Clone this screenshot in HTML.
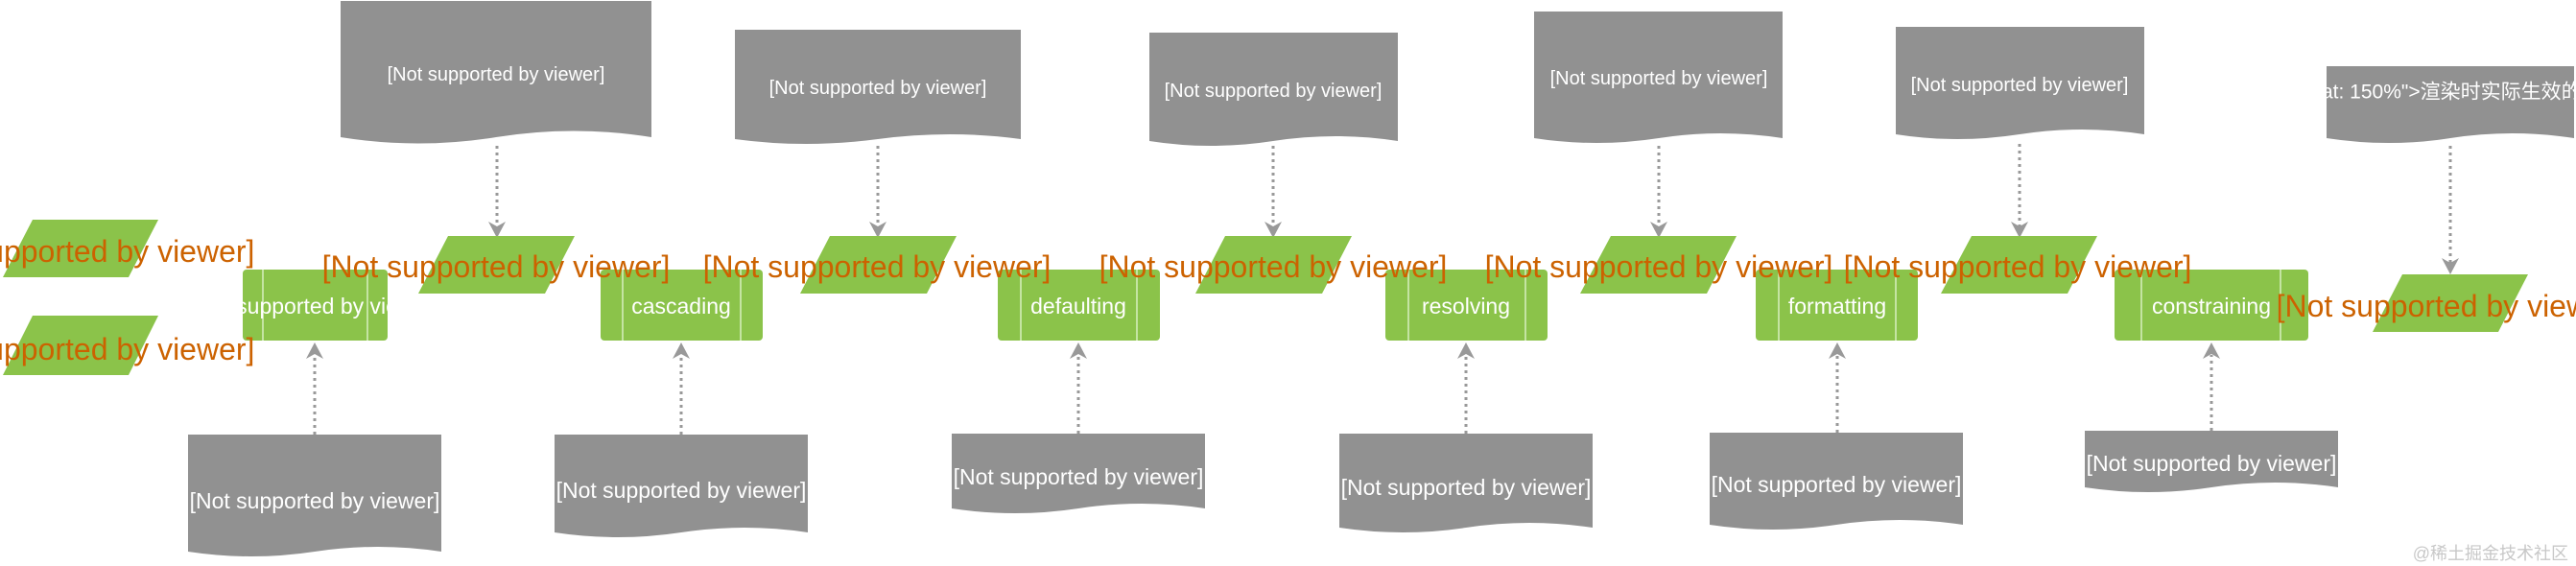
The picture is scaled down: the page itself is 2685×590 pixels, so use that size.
<!DOCTYPE html>
<html><head><meta charset="utf-8"><style>
html,body{margin:0;padding:0;background:#fff;overflow:hidden}
svg{display:block}
</style></head><body>
<svg width="2685" height="590" xmlns="http://www.w3.org/2000/svg" font-family="'Liberation Sans','Noto Sans CJK SC',sans-serif">
<defs>
<clipPath id="c6"><rect x="2425" y="60" width="260" height="100"/></clipPath>
</defs>
<g fill="#919191">
<path d="M355 1 H679 V143 Q598 130 517 143 Q436 156 355 143 Z"/>
<path d="M766 31 H1064 V145 Q990 135 915 145 Q840 155 766 145 Z"/>
<path d="M1198 34 H1457 V147 Q1392 137 1327 147 Q1262 157 1198 147 Z"/>
<path d="M1599 12 H1858 V144 Q1793 134 1729 144 Q1664 154 1599 144 Z"/>
<path d="M1976 28 H2235 V140 Q2170 130 2105 140 Q2040 150 1976 140 Z"/>
<path d="M2425 69 H2683 V144 Q2618 134 2554 144 Q2490 154 2425 144 Z"/>
<path d="M196 453 H460 V575 Q394 565 328 575 Q262 585 196 575 Z"/>
<path d="M578 453 H842 V555 Q776 545 710 555 Q644 565 578 555 Z"/>
<path d="M992 452 H1256 V530 Q1190 520 1124 530 Q1058 540 992 530 Z"/>
<path d="M1396 452 H1660 V550 Q1594 540 1528 550 Q1462 560 1396 550 Z"/>
<path d="M1782 451 H2046 V547 Q1980 537 1914 547 Q1848 557 1782 547 Z"/>
<path d="M2173 449 H2437 V508 Q2371 498 2305 508 Q2239 518 2173 508 Z"/>
</g>
<g fill="#fff" font-size="20" text-anchor="middle" dominant-baseline="central">
<text x="517" y="78">[Not supported by viewer]</text>
<text x="915" y="92">[Not supported by viewer]</text>
<text x="1327" y="95">[Not supported by viewer]</text>
<text x="1729" y="82">[Not supported by viewer]</text>
<text x="2105" y="89">[Not supported by viewer]</text>
</g>
<g clip-path="url(#c6)"><text x="2420" y="96" fill="#fff" font-size="21" dominant-baseline="central">at: 150%"&gt;渲染时实际生效的值</text></g>
<g fill="#fff" font-size="23" text-anchor="middle" dominant-baseline="central">
<text x="328" y="522">[Not supported by viewer]</text>
<text x="710" y="511">[Not supported by viewer]</text>
<text x="1124" y="497">[Not supported by viewer]</text>
<text x="1528" y="508">[Not supported by viewer]</text>
<text x="1914" y="505">[Not supported by viewer]</text>
<text x="2305" y="483">[Not supported by viewer]</text>
</g>
<g stroke="#999" stroke-width="3" stroke-dasharray="3,4" fill="none">
<path d="M518 152 V236"/><path d="M915 152 V236"/><path d="M1327 152 V236"/><path d="M1729 152 V236"/><path d="M2105 150 V236"/><path d="M2554 152 V274"/>
<path d="M328 453 V370"/><path d="M710 453 V370"/><path d="M1124 452 V370"/><path d="M1528 452 V370"/><path d="M1915 451 V370"/><path d="M2305 449 V370"/>
</g>
<g fill="#999">
<path d="M509 231 L518 248 L527 231 L518 236 Z"/>
<path d="M906 231 L915 248 L924 231 L915 236 Z"/>
<path d="M1318 231 L1327 248 L1336 231 L1327 236 Z"/>
<path d="M1720 231 L1729 248 L1738 231 L1729 236 Z"/>
<path d="M2096 231 L2105 248 L2114 231 L2105 236 Z"/>
<path d="M2545 269 L2554 286 L2563 269 L2554 274 Z"/>
<path d="M319 374 L328 357 L337 374 L328 369 Z"/>
<path d="M701 374 L710 357 L719 374 L710 369 Z"/>
<path d="M1115 374 L1124 357 L1133 374 L1124 369 Z"/>
<path d="M1519 374 L1528 357 L1537 374 L1528 369 Z"/>
<path d="M1906 374 L1915 357 L1924 374 L1915 369 Z"/>
<path d="M2296 374 L2305 357 L2314 374 L2305 369 Z"/>
</g>
<g fill="#8bc34a">
<rect x="253" y="281" width="151" height="74" rx="4"/>
<rect x="626" y="281" width="169" height="74" rx="4"/>
<rect x="1040" y="281" width="169" height="74" rx="4"/>
<rect x="1444" y="281" width="169" height="74" rx="4"/>
<rect x="1830" y="281" width="169" height="74" rx="4"/>
<rect x="2204" y="281" width="202" height="74" rx="4"/>
</g>
<g stroke="#d8efc0" stroke-width="1.5">
<path d="M274 281V355M383 281V355M649 281V355M772 281V355M1064 281V355M1185 281V355M1468 281V355M1590 281V355M1854 281V355M1976 281V355M2232 281V355M2377 281V355"/>
</g>
<g fill="#fff" font-size="23" text-anchor="middle" dominant-baseline="central">
<text x="328" y="319">[Not supported by viewer]</text>
<text x="710" y="319">cascading</text>
<text x="1124" y="319">defaulting</text>
<text x="1528" y="319">resolving</text>
<text x="1915" y="319">formatting</text>
<text x="2305" y="319">constraining</text>
</g>
<g fill="#8bc34a">
<path d="M34 229 H165 L134 289 H3 Z"/>
<path d="M34 329 H165 L134 391 H3 Z"/>
<path d="M467 246 H599 L568 306 H436 Z"/>
<path d="M865 246 H997 L966 306 H834 Z"/>
<path d="M1277 246 H1409 L1378 306 H1246 Z"/>
<path d="M1679 246 H1810 L1779 306 H1647 Z"/>
<path d="M2055 246 H2186 L2155 306 H2023 Z"/>
<path d="M2504 286 H2635 L2604 346 H2473 Z"/>
</g>
<g fill="#cc6200" font-size="32" text-anchor="middle" dominant-baseline="central">
<text x="84" y="262">[Not supported by viewer]</text>
<text x="84" y="364">[Not supported by viewer]</text>
<text x="517" y="278">[Not supported by viewer]</text>
<text x="914" y="278">[Not supported by viewer]</text>
<text x="1327" y="278">[Not supported by viewer]</text>
<text x="1729" y="278">[Not supported by viewer]</text>
<text x="2103" y="278">[Not supported by viewer]</text>
<text x="2554" y="319">[Not supported by viewer]</text>
</g>
<text x="2677" y="577" fill="#c8c8c8" font-size="18" text-anchor="end" dominant-baseline="central">@稀土掘金技术社区</text>
</svg>
</body></html>
